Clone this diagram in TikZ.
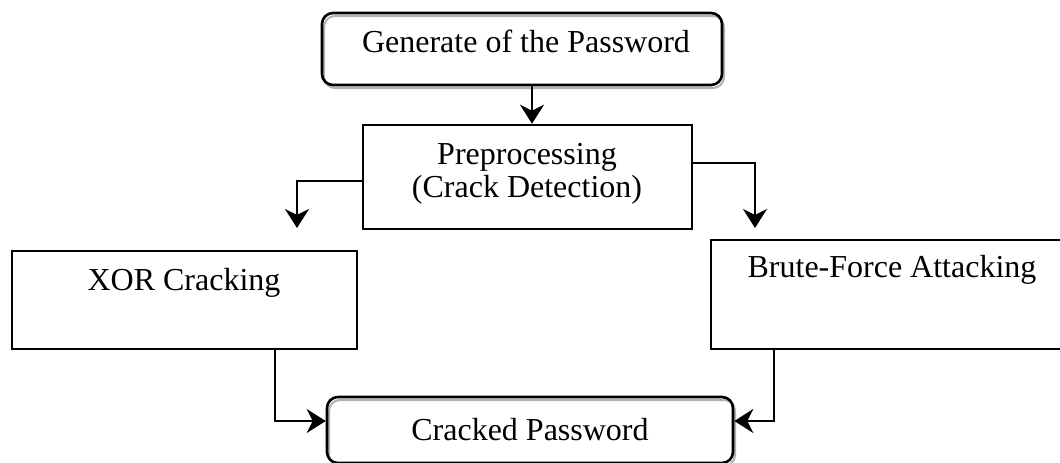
\documentclass[tikz,border=0pt]{standalone}
\usepackage{fontspec}
\setmainfont{Liberation Serif}
\usetikzlibrary{arrows.meta}
\begin{document}
\begin{tikzpicture}[x=1pt,y=-1pt,
  box/.style={draw, line width=2.6pt, inner sep=0pt},
  rbox/.style={box, rounded corners=11pt},
  txt/.style={font=\fontsize{32}{33}\selectfont, inner sep=0pt, align=center},
  conn/.style={line width=2.6pt, -{Stealth[length=19pt,width=24pt,inset=6pt]}},
  shadowline/.style={draw=gray!60, line width=2pt, rounded corners=11pt}]
\useasboundingbox (0,0) rectangle (1060,463);
% shadows of the rounded boxes
\draw[shadowline] (324,16) rectangle (724,88);
\draw[shadowline] (329,400) rectangle (735,466);
% boxes
\node[rbox, minimum width=400pt, minimum height=72pt] (gen) at (522,49) {};
\node[box, minimum width=329pt, minimum height=104pt] (pre) at (527.5,177) {};
\node[box, minimum width=345pt, minimum height=98pt] (xor) at (184.5,300) {};
\node[box, minimum width=361pt, minimum height=109pt] (brute) at (891.5,294.5) {};
\node[rbox, minimum width=406pt, minimum height=66pt] (crk) at (530,430) {};
% texts
\node[txt] (gtxt) at (526,41) {Generate of the Password};
\node[txt] (ptxt) at (527,174) {Preprocessing\\(Crack Detection)};
\node[txt] (xtxt) at (184,283) {XOR Cracking};
\node[txt] (btxt) at (892,270) {Brute-Force Attacking};
\node[txt] (ctxt) at (530,430) {Cracked Password};
% connectors
\coordinate (tipL) at (297,228);
\coordinate (tipR) at (755,228);
\draw[conn] ([xshift=10pt]gen.south) -- ([xshift=10pt]gen.south |- pre.north);
\draw[conn] ([yshift=-4pt]pre.west) -| (tipL);
\draw[conn] ([yshift=14pt]pre.east) -| (tipR);
\draw[conn] ([xshift=90.5pt]xor.south) |- ([yshift=9pt]crk.west);
\draw[conn] ([xshift=-117.5pt]brute.south) |- ([yshift=9pt]crk.east);
\end{tikzpicture}
\end{document}
